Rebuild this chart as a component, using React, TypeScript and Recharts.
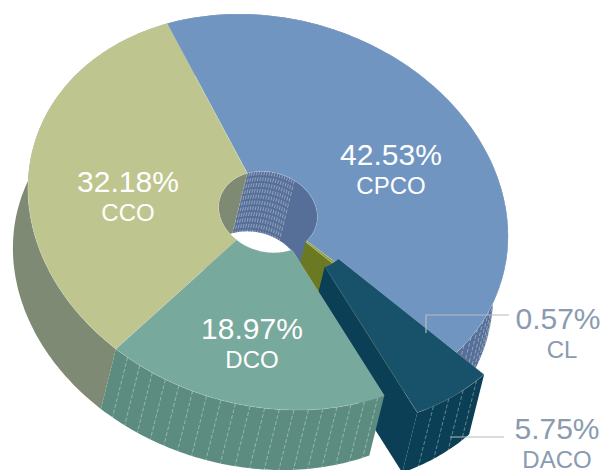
import React from "react";
import { PieChart, Pie } from "recharts";

const NAMES = ["CPCO", "CL", "DACO", "DCO", "CCO"];
const VALUES = [42.53, 0.57, 5.75, 18.97, 32.18];
const TOP_COLORS = ["#7095C0", "#8FA33A", "#17516A", "#77A99C", "#BEC58E"];
const WALL_COLORS = ["#566F98", "#6B7A22", "#0B3F55", "#5C8B80", "#7F8A74"];
const SEAM_STEP = [3, 0, 4.5, 3.5, 0];

const chartData = NAMES.map((name, i) => ({
  name,
  value: VALUES[i],
  top: TOP_COLORS[i],
  wall: WALL_COLORS[i],
  seam: SEAM_STEP[i],
}));

const CX = 268;
const CY = 212;
const RX = 243.5;
const HOLE = 50;
const SQUASH = 0.796;
const TILT = (16 * Math.PI) / 180;
const DEPTH = { x: -15, y: 60 };
const EXPLODE = { x: 33, y: 17 };

// flat pie -> tilted ellipse
function pt(deg: number, r: number, off = { x: 0, y: 0 }) {
  const a = (deg * Math.PI) / 180;
  const x = r * Math.cos(a);
  const y = -r * SQUASH * Math.sin(a);
  return {
    x: CX + x * Math.cos(TILT) - y * Math.sin(TILT) + off.x,
    y: CY + x * Math.sin(TILT) + y * Math.cos(TILT) + off.y,
  };
}

function arc(from: number, to: number, r: number, off = { x: 0, y: 0 }) {
  const n = Math.max(2, Math.ceil(Math.abs(to - from)));
  const out = [];
  for (let i = 0; i <= n; i++) out.push(pt(from + ((to - from) * i) / n, r, off));
  return out;
}

const shift = (o: { x: number; y: number }) => ({ x: o.x + DEPTH.x, y: o.y + DEPTH.y });
const toPath = (pts: { x: number; y: number }[]) =>
  "M" + pts.map((p) => `${p.x.toFixed(1)},${p.y.toFixed(1)}`).join("L") + "Z";

function Band({ p, r, off, seamFrom }: any) {
  const { startAngle: s, endAngle: e, wall, seam } = p;
  const lo = Math.min(s, e);
  const hi = Math.max(s, e);
  const lines = [];
  if (seam) {
    for (let a = lo + seam; a < hi; a += seam) {
      if (seamFrom !== undefined && a < seamFrom) continue;
      const q = pt(a, r, off);
      lines.push(
        <line
          key={a}
          x1={q.x}
          y1={q.y}
          x2={q.x + DEPTH.x}
          y2={q.y + DEPTH.y}
          stroke="#fff"
          strokeOpacity={0.6}
          strokeWidth={0.6}
          strokeDasharray="4 2"
        />
      );
    }
  }
  const d = shift(off);
  return (
    <g>
      <path d={toPath([...arc(s, e, r, off), ...arc(e, s, r, d)])} fill={wall} />
      {lines}
    </g>
  );
}

function EndWall({ p, deg, off }: any) {
  const d = shift(off);
  const pts = [pt(deg, HOLE, off), pt(deg, RX, off), pt(deg, RX, d), pt(deg, HOLE, d)];
  return <path d={toPath(pts)} fill={p.wall} />;
}

function Top({ p, off }: any) {
  const { startAngle: s, endAngle: e, top } = p;
  return (
    <path
      d={toPath([...arc(s, e, RX, off), ...arc(e, s, HOLE, off)])}
      fill={top}
      stroke="#fff"
      strokeOpacity={0.25}
      strokeWidth={0.6}
    />
  );
}

const NONE = { x: 0, y: 0 };

function BackWalls(p: any) {
  if (p.name === "DACO" || p.name === "DCO") return <g />;
  return (
    <g>
      <Band p={p} r={HOLE} off={NONE} seamFrom={p.name === "CPCO" ? 68 : undefined} />
      <Band p={p} r={RX} off={NONE} />
    </g>
  );
}

function BackTops(p: any) {
  if (p.name === "DACO" || p.name === "DCO") return <g />;
  return (
    <g>
      {p.name === "CL" && <EndWall p={p} deg={p.endAngle} off={NONE} />}
      <Top p={p} off={NONE} />
    </g>
  );
}

function Exploded(p: any) {
  if (p.name !== "DACO") return <g />;
  return (
    <g>
      <Band p={p} r={HOLE} off={EXPLODE} />
      <EndWall p={p} deg={p.endAngle} off={EXPLODE} />
      <Band p={p} r={RX} off={EXPLODE} />
      <Top p={p} off={EXPLODE} />
    </g>
  );
}

// DCO sits over the pulled out slice's side wall
function Front(p: any) {
  if (p.name !== "DCO") return <g />;
  return (
    <g>
      <Band p={p} r={RX} off={NONE} />
      <Top p={p} off={NONE} />
    </g>
  );
}

// label spot: centre x, baseline of the first line, text colour
const LABEL_X = [391, 558, 557, 252, 128];
const SUB_X = [391, 562, 557, 252, 128];
const LABEL_Y = [165, 329, 439, 339, 192];
const LABEL_COLORS = ["#fff", "#8A9BB0", "#8A9BB0", "#fff", "#fff"];

function renderLabel(p: any) {
  const i = p.index;
  return (
    <g key={i} fontFamily="Liberation Sans, Arial, sans-serif" textAnchor="middle">
      <text x={LABEL_X[i]} y={LABEL_Y[i]} fontSize={30} fill={LABEL_COLORS[i]}>
        {VALUES[i].toFixed(2)}%
      </text>
      <text x={SUB_X[i]} y={LABEL_Y[i] + 29} fontSize={24} fill={LABEL_COLORS[i]}>
        {NAMES[i]}
      </text>
      {NAMES[i] === "CL" && (
        <polyline points="509,315 426,315 426,333" fill="none" stroke="#B4BBC2" strokeWidth={1.2} />
      )}
      {NAMES[i] === "DACO" && (
        <line x1={504} y1={437} x2={450} y2={437} stroke="#B4BBC2" strokeWidth={1.2} />
      )}
    </g>
  );
}

export default function App() {
  const shared = {
    data: chartData,
    dataKey: "value",
    nameKey: "name",
    cx: CX,
    cy: CY,
    innerRadius: HOLE,
    outerRadius: RX,
    startAngle: 127.7,
    endAngle: -232.3,
    paddingAngle: 0,
    isAnimationActive: false,
    stroke: "none",
  };

  return (
    <div style={{ position: "fixed", left: 0, top: 0, width: 603, height: 470, overflow: "hidden", background: "#fff" }}>
      <PieChart width={603} height={470} margin={{ top: 0, right: 0, bottom: 0, left: 0 }}>
        <Pie {...shared} shape={BackWalls} />
        <Pie {...shared} shape={BackTops} />
        <Pie {...shared} shape={Exploded} />
        <Pie {...shared} shape={Front} label={renderLabel} labelLine={false} />
      </PieChart>
    </div>
  );
}
